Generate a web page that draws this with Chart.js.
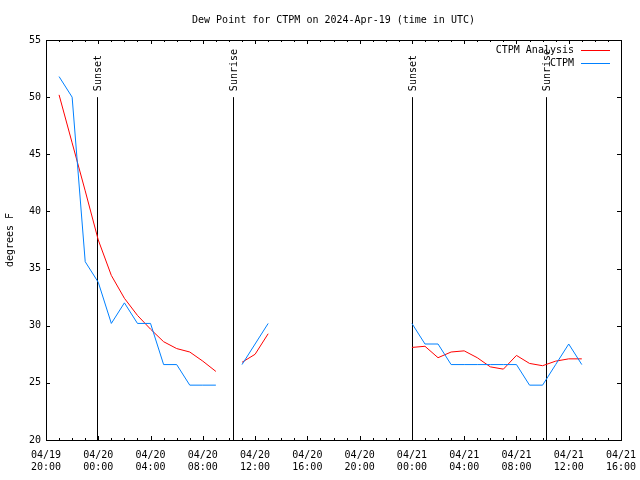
<!DOCTYPE html>
<html>
<head>
<meta charset="utf-8">
<script src="https://cdn.jsdelivr.net/npm/chart.js@4/dist/chart.umd.min.js"></script>
<style>
  body { margin: 0; background: #fff; }
  #wrap { width: 640px; height: 480px; }
</style>
</head>
<body>
<div id="wrap"><canvas id="dew_canvas" width="640" height="480"></canvas></div>
<script>
// hourly observation times (UTC)
var obsTimes = [
  '04/19 21:00', '04/19 22:00', '04/19 23:00',
  '04/20 00:00', '04/20 01:00', '04/20 02:00', '04/20 03:00', '04/20 04:00', '04/20 05:00',
  '04/20 06:00', '04/20 07:00', '04/20 08:00', '04/20 09:00', '04/20 10:00', '04/20 11:00',
  '04/20 12:00', '04/20 13:00', '04/20 14:00', '04/20 15:00', '04/20 16:00', '04/20 17:00',
  '04/20 18:00', '04/20 19:00', '04/20 20:00', '04/20 21:00', '04/20 22:00', '04/20 23:00',
  '04/21 00:00', '04/21 01:00', '04/21 02:00', '04/21 03:00', '04/21 04:00', '04/21 05:00',
  '04/21 06:00', '04/21 07:00', '04/21 08:00', '04/21 09:00', '04/21 10:00', '04/21 11:00',
  '04/21 12:00', '04/21 13:00'
];
// dew point, degrees F (null = missing)
var analysisValues = [
  50.2, 46.0, 41.8,
  37.5, 34.4, 32.4, 30.9, 29.7, 28.6,
  28.0, 27.7, 26.9, 26.0, null, 26.8,
  27.5, 29.3, null, null, null, null,
  null, null, null, null, null, null,
  28.1, 28.2, 27.2, 27.7, 27.8, 27.2,
  26.4, 26.2, 27.4, 26.7, 26.5, 26.9,
  27.1, 27.1
];
var obsValues = [
  51.8, 50.0, 35.6,
  33.8, 30.2, 32.0, 30.2, 30.2, 26.6,
  26.6, 24.8, 24.8, 24.8, null, 26.6,
  28.4, 30.2, null, null, null, null,
  null, null, null, null, null, null,
  30.2, 28.4, 28.4, 26.6, 26.6, 26.6,
  26.6, 26.6, 26.6, 24.8, 24.8, 26.6,
  28.4, 26.6
];
var seriesNames = ['CTPM Analysis', 'CTPM'];
var seriesColors = ['#ff0000', '#0080ff'];

var eventNames = ['Sunset', 'Sunrise', 'Sunset', 'Sunrise'];
var eventTimes = ['04/19 23:55', '04/20 10:20', '04/20 23:59', '04/21 10:17'];
var eventTop = 50;

var yTicks = [20, 25, 30, 35, 40, 45, 50, 55];
var xStart = '04/19 20:00';
var xEnd = '04/21 16:00';

// hours since 04/19 20:00
function toHours(s) {
    var day = parseInt(s.substr(3, 2), 10);
    var hh = parseInt(s.substr(6, 2), 10);
    var mm = parseInt(s.substr(9, 2), 10);
    return (day - 19) * 24 + hh + mm / 60 - 20;
}
function hourLabel(h) {
    var t = 20 + h;
    var day = 19 + Math.floor(t / 24);
    var hh = t % 24;
    var pad = function (n) { return (n < 10 ? '0' : '') + n; };
    return ['04/' + pad(day), pad(hh) + ':00'];
}
function points(vals) {
    return obsTimes.map(function (t, i) { return {x: toHours(t), y: vals[i]}; });
}

var monoFont = {family: "'DejaVu Sans Mono', monospace", size: 10, weight: 'normal'};

var framePlugin = {
    id: 'frame',
    beforeDatasetsDraw: function (chart) {
        var ctx = chart.ctx, x = chart.scales.x, y = chart.scales.y;
        ctx.save();
        ctx.strokeStyle = '#000';
        ctx.lineWidth = 1;
        ctx.fillStyle = '#000';
        ctx.font = "10px 'DejaVu Sans Mono', monospace";
        for (var i = 0; i < eventTimes.length; i++) {
            var px = Math.round(x.getPixelForValue(toHours(eventTimes[i]))) + 0.5;
            ctx.beginPath();
            ctx.moveTo(px, y.getPixelForValue(20));
            ctx.lineTo(px, y.getPixelForValue(eventTop));
            ctx.stroke();
            ctx.save();
            ctx.translate(px + 1, y.getPixelForValue(eventTop) - 6);
            ctx.rotate(-Math.PI / 2);
            ctx.textAlign = 'left';
            ctx.textBaseline = 'middle';
            ctx.fillText(eventNames[i], 0, 0);
            ctx.restore();
        }
        ctx.restore();
    },
    afterDraw: function (chart) {
        var ctx = chart.ctx, a = chart.chartArea, x = chart.scales.x, y = chart.scales.y;
        ctx.save();
        ctx.strokeStyle = '#000';
        ctx.lineWidth = 1;
        ctx.beginPath();
        // inward ticks, x axis: major every 4h, minor every hour
        for (var h = 0; h <= 44; h++) {
            var px = Math.round(x.getPixelForValue(h)) + 0.5;
            var len = (h % 4 === 0) ? 4 : 2;
            ctx.moveTo(px, a.bottom); ctx.lineTo(px, a.bottom - len);
            ctx.moveTo(px, a.top); ctx.lineTo(px, a.top + len);
        }
        yTicks.forEach(function (v) {
            var py = Math.round(y.getPixelForValue(v)) + 0.5;
            ctx.moveTo(a.left, py); ctx.lineTo(a.left + 4, py);
            ctx.moveTo(a.right, py); ctx.lineTo(a.right - 4, py);
        });
        ctx.stroke();
        ctx.strokeRect(Math.round(a.left) + 0.5, Math.round(a.top) + 0.5,
                       Math.round(a.right - a.left), Math.round(a.bottom - a.top));
        // key, top right inside the plot
        ctx.font = "10px 'DejaVu Sans Mono', monospace";
        ctx.fillStyle = '#000';
        ctx.textAlign = 'right';
        ctx.textBaseline = 'middle';
        for (var i = 0; i < seriesNames.length; i++) {
            var ky = a.top + 10 + i * 13;
            ctx.fillText(seriesNames[i], a.right - 47, ky);
            ctx.strokeStyle = seriesColors[i];
            ctx.beginPath();
            ctx.moveTo(a.right - 40, ky + 0.5);
            ctx.lineTo(a.right - 11, ky + 0.5);
            ctx.stroke();
        }
        ctx.restore();
    }
};

var ctx = document.getElementById('dew_canvas').getContext('2d');
new Chart(ctx, {
    type: 'line',
    data: {
        datasets: [{
            label: seriesNames[0],
            data: points(analysisValues),
            borderColor: seriesColors[0],
            borderWidth: 1,
            pointRadius: 0,
            tension: 0,
            spanGaps: false,
            order: 1
        }, {
            label: seriesNames[1],
            data: points(obsValues),
            borderColor: seriesColors[1],
            borderWidth: 1,
            pointRadius: 0,
            tension: 0,
            spanGaps: false,
            order: 0
        }]
    },
    options: {
        responsive: false,
        animation: false,
        layout: {padding: {left: 0, right: 19, top: 0, bottom: 0}},
        plugins: {
            legend: {display: false},
            tooltip: {enabled: false},
            title: {
                display: true,
                fullSize: false,
                text: 'Dew Point for CTPM on 2024-Apr-19 (time in UTC)',
                color: '#000',
                font: monoFont,
                padding: {top: 14, bottom: 14}
            }
        },
        scales: {
            x: {
                type: 'linear',
                min: toHours(xStart),
                max: toHours(xEnd),
                grid: {display: false, drawTicks: false},
                border: {display: false},
                ticks: {
                    stepSize: 4,
                    padding: 9,
                    maxRotation: 0,
                    autoSkip: false,
                    color: '#000',
                    font: monoFont,
                    callback: function (v) { return hourLabel(v); }
                },
                afterFit: function (s) { s.height = 40; s.paddingLeft = 0; s.paddingRight = 0; }
            },
            y: {
                min: yTicks[0],
                max: yTicks[yTicks.length - 1],
                grid: {display: false, drawTicks: false},
                border: {display: false},
                ticks: {stepSize: 5, padding: 5, color: '#000', font: monoFont},
                title: {display: true, text: 'degrees F', color: '#000', font: monoFont, padding: {top: 4, bottom: 0}},
                afterFit: function (s) { s.width = 46; s.paddingTop = 0; s.paddingBottom = 0; }
            }
        }
    },
    plugins: [framePlugin]
});
</script>
</body>
</html>
